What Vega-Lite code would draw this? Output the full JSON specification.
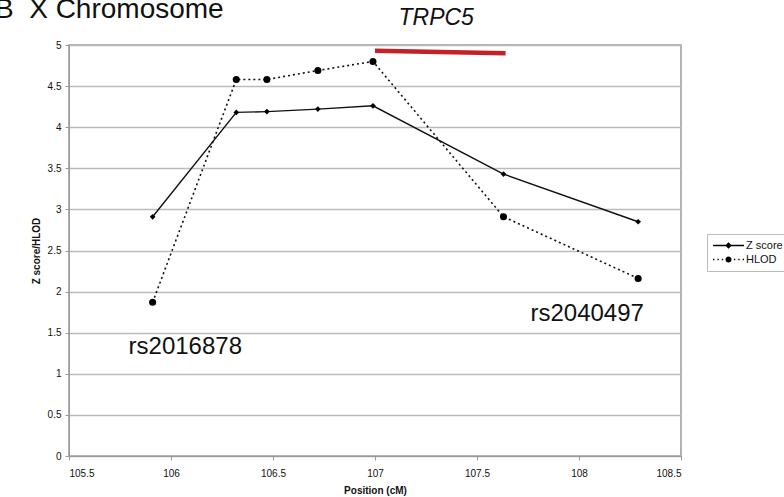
{
  "$schema": "https://vega.github.io/schema/vega-lite/v6.json",
  "autosize": {"type": "none"},
  "width": 612,
  "height": 411,
  "padding": {"left": 69, "top": 45, "right": 103, "bottom": 41},
  "background": "white",
  "config": {
    "font": "Liberation Sans",
    "view": {"stroke": "#999999", "strokeWidth": 1.5},
    "axis": {"labelFont": "Liberation Sans", "titleFont": "Liberation Sans", "labelColor": "#111", "titleColor": "#111"}
  },
  "datasets": {
    "scores": [
      {"position": 105.91, "value": 2.91, "series": "Z score"},
      {"position": 106.32, "value": 4.18, "series": "Z score"},
      {"position": 106.47, "value": 4.19, "series": "Z score"},
      {"position": 106.72, "value": 4.22, "series": "Z score"},
      {"position": 106.99, "value": 4.26, "series": "Z score"},
      {"position": 107.63, "value": 3.43, "series": "Z score"},
      {"position": 108.29, "value": 2.85, "series": "Z score"},
      {"position": 105.91, "value": 1.87, "series": "HLOD"},
      {"position": 106.32, "value": 4.58, "series": "HLOD"},
      {"position": 106.47, "value": 4.58, "series": "HLOD"},
      {"position": 106.72, "value": 4.69, "series": "HLOD"},
      {"position": 106.99, "value": 4.80, "series": "HLOD"},
      {"position": 107.63, "value": 2.91, "series": "HLOD"},
      {"position": 108.29, "value": 2.16, "series": "HLOD"}
    ],
    "gene": [
      {"start": 107.0, "end": 107.64, "y1": 4.93, "y2": 4.90}
    ],
    "labels": [
      {"label": "rs2016878", "position": 106.07, "value": 1.33},
      {"label": "rs2040497", "position": 108.04, "value": 1.73}
    ],
    "gene_label": [
      {"label": "TRPC5", "position": 107.3, "value": 5.33}
    ],
    "heading": [
      {"label": "B\u00a0\u00a0X Chromosome", "position": 105.137, "value": 5.33}
    ]
  },
  "layer": [
    {
      "data": {"name": "scores"},
      "transform": [{"filter": "datum.series === 'Z score'"}],
      "mark": {"type": "line", "color": "#111", "strokeWidth": 1.4},
      "encoding": {
        "x": {
          "field": "position", "type": "quantitative",
          "scale": {"domain": [105.5, 108.5], "nice": false, "zero": false},
          "axis": {"title": "Position (cM)", "titleFontSize": 10, "titleFontWeight": "bold", "labelFontSize": 10, "format": "~g", "values": [105.5, 106, 106.5, 107, 107.5, 108, 108.5], "grid": false, "domainColor": "#999", "tickColor": "#999", "tickSize": 4, "labelPadding": 8, "titlePadding": 7}
        },
        "y": {
          "field": "value", "type": "quantitative",
          "scale": {"domain": [0, 5], "nice": false},
          "axis": {"title": "Z score/HLOD", "titleFontSize": 10, "titleFontWeight": "bold", "labelFontSize": 10, "format": "~g", "values": [0, 0.5, 1, 1.5, 2, 2.5, 3, 3.5, 4, 4.5, 5], "grid": true, "gridColor": "#bbbbbb", "gridWidth": 1.5, "domainColor": "#999", "tickColor": "#999", "tickSize": 4, "labelPadding": 4, "titlePadding": 6}
        }
      }
    },
    {
      "data": {"name": "scores"},
      "transform": [{"filter": "datum.series === 'HLOD'"}],
      "mark": {"type": "line", "color": "#111", "strokeWidth": 1.6, "strokeDash": [2, 3]},
      "encoding": {
        "x": {"field": "position", "type": "quantitative"},
        "y": {"field": "value", "type": "quantitative"}
      }
    },
    {
      "data": {"name": "scores"},
      "mark": {"type": "point", "filled": true, "color": "#000", "opacity": 1},
      "encoding": {
        "x": {"field": "position", "type": "quantitative"},
        "y": {"field": "value", "type": "quantitative"},
        "size": {"condition": {"test": "datum.series === 'HLOD'", "value": 50}, "value": 32},
        "shape": {"condition": {"test": "datum.series === 'HLOD'", "value": "circle"}, "value": "diamond"}
      }
    },
    {
      "data": {"name": "scores"},
      "mark": {"type": "point", "filled": true, "color": "#000", "opacity": 0},
      "encoding": {
        "x": {"field": "position", "type": "quantitative"},
        "y": {"field": "value", "type": "quantitative"},
        "shape": {
          "field": "series", "type": "nominal",
          "scale": {
            "domain": ["Z score", "HLOD"],
            "range": [
              "M-1,-0.12H4.64V0.12H-1ZM1.82,-0.6L2.42,0L1.82,0.6L1.22,0Z",
              "M-1,-0.12H-0.75V0.12H-1ZM-0.2,-0.12H0.05V0.12H-0.2ZM0.6,-0.12H0.85V0.12H0.6ZM2.8,-0.12H3.05V0.12H2.8ZM3.6,-0.12H3.85V0.12H3.6ZM4.39,-0.12H4.64V0.12H4.39ZM2.37,0A0.55,0.55,0,1,1,1.27,0A0.55,0.55,0,1,1,2.37,0Z"
            ]
          },
          "legend": {
            "title": null,
            "orient": "none",
            "legendX": 638,
            "legendY": 189,
            "labelFontSize": 11,
            "labelFont": "Liberation Sans",
            "labelColor": "#111",
            "strokeColor": "#bbbbbb",
            "fillColor": "white",
            "padding": 5,
            "rowPadding": 1,
            "symbolSize": 121,
            "symbolOpacity": 1,
            "symbolFillColor": "#000",
            "symbolStrokeColor": "#000",
            "labelOffset": 21
          }
        }
      }
    },
    {
      "data": {"name": "gene"},
      "mark": {"type": "rule", "color": "#c42026", "strokeWidth": 4.5},
      "encoding": {
        "x": {"field": "start", "type": "quantitative"},
        "x2": {"field": "end"},
        "y": {"field": "y1", "type": "quantitative"},
        "y2": {"field": "y2"}
      }
    },
    {
      "data": {"name": "labels"},
      "mark": {"type": "text", "fontSize": 24, "font": "Liberation Sans", "color": "#111", "baseline": "middle", "align": "center", "clip": false},
      "encoding": {
        "x": {"field": "position", "type": "quantitative"},
        "y": {"field": "value", "type": "quantitative"},
        "text": {"field": "label"}
      }
    },
    {
      "data": {"name": "gene_label"},
      "mark": {"type": "text", "fontSize": 23, "fontStyle": "italic", "font": "Liberation Sans", "color": "#111", "baseline": "middle", "align": "center", "clip": false},
      "encoding": {
        "x": {"field": "position", "type": "quantitative"},
        "y": {"field": "value", "type": "quantitative"},
        "text": {"field": "label"}
      }
    },
    {
      "data": {"name": "heading"},
      "mark": {"type": "text", "fontSize": 28, "font": "Liberation Sans", "color": "#111", "baseline": "alphabetic", "align": "left", "clip": false},
      "encoding": {
        "x": {"field": "position", "type": "quantitative"},
        "y": {"field": "value", "type": "quantitative"},
        "text": {"field": "label"}
      }
    }
  ]
}
